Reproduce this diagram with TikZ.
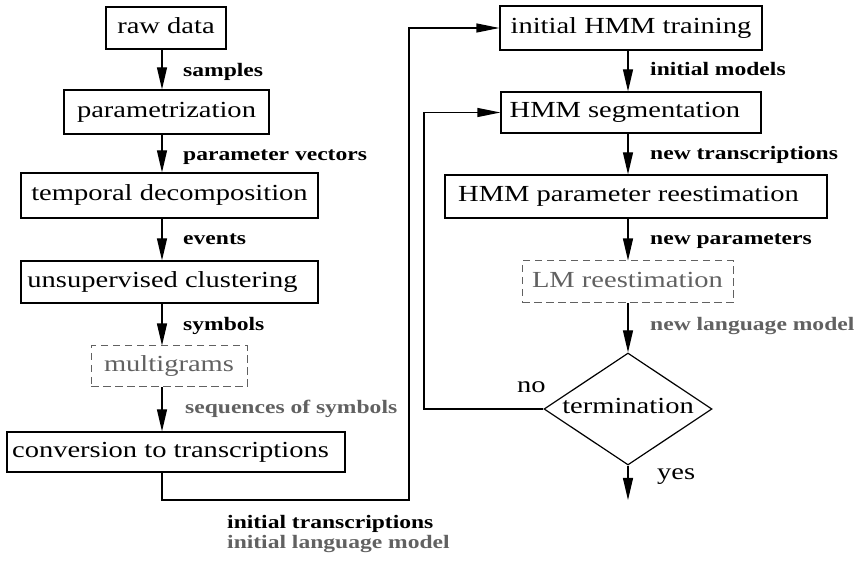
\documentclass[tikz,border=0pt]{standalone}
\usepackage{fontspec}
\setmainfont{Liberation Serif}[FakeStretch=1.24]
\usetikzlibrary{arrows.meta,shapes.geometric}
\definecolor{dimgrey}{gray}{0.38}
\begin{document}
\begin{tikzpicture}[x=1pt,y=-1pt,
  box/.style={draw, line width=1.2pt, rectangle, inner xsep=2pt, inner ysep=0pt,
    text height=16pt, text depth=5pt, font=\fontsize{23}{27}\selectfont},
  optbox/.style={box, draw=dimgrey, text=dimgrey, line width=1pt,
    dash pattern=on 7.5pt off 4.5pt},
  lbl/.style={anchor=base west, inner sep=0pt, font=\fontsize{19}{22}\selectfont\bfseries},
  optlbl/.style={lbl, text=dimgrey},
  word/.style={anchor=base west, inner sep=0pt, font=\fontsize{23}{27}\selectfont},
  link/.style={line width=1.2pt},
  vflow/.style={link, -{Triangle[length=22pt,width=10pt]}},
  hflow/.style={link, -{Triangle[length=23pt,width=9pt]}},
]
\useasboundingbox (0,0) rectangle (855,561);

% column axes
\coordinate (cL) at (162,0);
\coordinate (cR) at (628,0);

% left column: unsupervised unit discovery
\node[box, minimum width=120pt, minimum height=42pt] (raw)   at (166,28)    {raw data};
\node[box, minimum width=205pt, minimum height=44pt] (par)   at (166.5,112) {parametrization};
\node[box, minimum width=297pt, minimum height=45pt] (tdec)  at (169.5,195.5) {temporal decomposition};
\node[box, minimum width=297pt, minimum height=42pt] (uclu)  at (169.5,282) {\hspace{-14pt}unsupervised clustering};
\node[optbox, minimum width=156pt, minimum height=41pt] (multi) at (169,366.5) {multigrams};
\node[box, minimum width=338pt, minimum height=40pt] (conv)  at (176,452)   {\hspace{-11pt}conversion to transcriptions};

% right column: HMM training loop
\node[box, minimum width=262pt, minimum height=44pt] (ihmm)  at (631,28)    {initial HMM training};
\node[box, minimum width=260pt, minimum height=41pt] (seg)   at (631,112.5) {\hspace{-12pt}HMM segmentation};
\node[box, minimum width=382pt, minimum height=43pt] (hpr)   at (636,196.5) {\hspace{-15pt}HMM parameter reestimation};
\node[optbox, minimum width=211pt, minimum height=42pt] (lm) at (627.5,282) {LM reestimation};
\node[draw, line width=1.2pt, diamond, aspect=1.5, inner sep=0pt,
      minimum width=168pt, minimum height=112pt,
      text height=14pt, text depth=4pt, font=\fontsize{23}{27}\selectfont] (term) at (628,409) {termination};

\coordinate (bc)  at (409,500);
\coordinate (lc)  at (424,112.5);
\coordinate (out) at (628,500);

% left column flow
\draw[vflow] (raw.south -| cL)   -- (par.north -| cL);
\draw[vflow] (par.south -| cL)   -- (tdec.north -| cL);
\draw[vflow] (tdec.south -| cL)  -- (uclu.north -| cL);
\draw[vflow] (uclu.south -| cL)  -- (multi.north -| cL);
\draw[vflow] (multi.south -| cL) -- (conv.north -| cL);

% hand-over to HMM training
\draw[hflow] (conv.south -| cL) |- (bc) |- (ihmm.west);

% right column flow
\draw[vflow] (ihmm.south -| cR) -- (seg.north -| cR);
\draw[vflow] (seg.south -| cR)  -- (hpr.north -| cR);
\draw[vflow] (hpr.south -| cR)  -- (lm.north -| cR);
\draw[vflow] (lm.south -| cR)   -- (term.north);
\draw[hflow] (term.west) -| (lc) -- (seg.west);
\draw[vflow] (term.south) -- (out);

% flow labels
\node[lbl] (l1) at (183,76.5) {samples};
\node[lbl] (l2) at (183,161) {parameter vectors};
\node[lbl] (l3) at (183,245) {events};
\node[lbl] (l4) at (183,331) {symbols};
\node[optlbl] (l5) at (185,414) {sequences of symbols};
\node[lbl] (l6) at (227,529) {initial transcriptions};
\node[optlbl] (l7) at (227,548) {initial language model};
\node[lbl] (r1) at (650,76) {initial models};
\node[lbl] (r2) at (650,160) {new transcriptions};
\node[lbl] (r3) at (650,245) {new parameters};
\node[optlbl] (r4) at (650,331) {new language model};
\node[word] (no)  at (517,393) {no};
\node[word] (yes) at (657,479) {yes};
\end{tikzpicture}
\end{document}
